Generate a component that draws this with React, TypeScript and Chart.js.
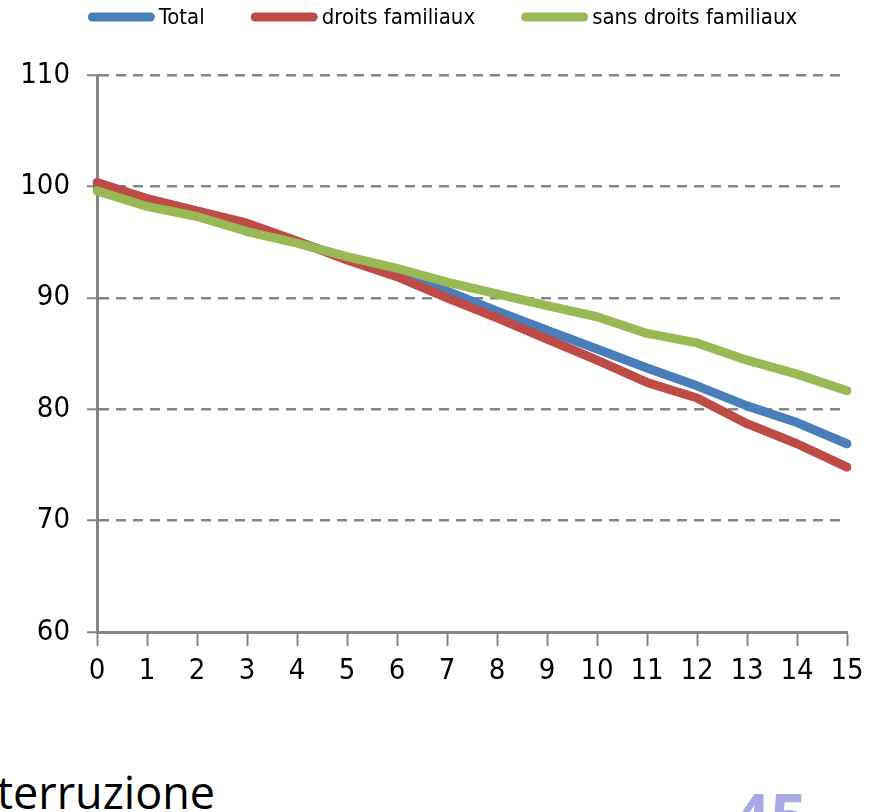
import React, { useEffect, useRef } from "react";
import { Chart, registerables } from "chart.js";

Chart.register(...registerables);

const categories = ["0", "1", "2", "3", "4", "5", "6", "7", "8", "9", "10", "11", "12", "13", "14", "15"];
const totalValues = [100.0, 98.6, 97.6, 96.3, 95.0, 93.6, 92.1, 90.6, 88.8, 87.1, 85.4, 83.7, 82.1, 80.3, 78.8, 76.9];
const droitsValues = [100.35, 98.9, 97.8, 96.7, 95.1, 93.4, 91.9, 90.0, 88.2, 86.3, 84.4, 82.4, 81.0, 78.7, 76.9, 74.8];
const sansValues = [99.6, 98.2, 97.3, 95.95, 94.9, 93.7, 92.65, 91.4, 90.35, 89.3, 88.3, 86.8, 85.95, 84.4, 83.15, 81.65];
const seriesLabels = ["Total", "droits familiaux", "sans droits familiaux"];
const seriesColors = ["#4a7ebb", "#be4b48", "#98b954"];
const yMin = 60;
const yMax = 110;
const yStep = 10;

const FONT = '"Liberation Sans Narrow", "DejaVu Sans Condensed", sans-serif';

const legendPlugin = {
  id: "customLegend",
  afterDraw(chart: any) {
    const ctx = chart.ctx;
    ctx.save();
    ctx.font = `22px ${FONT}`;
    const items = chart.data.datasets.map((d: any) => ({
      label: d.label,
      color: d.borderColor,
      w: ctx.measureText(d.label).width,
    }));
    const sample = 67;
    const gap = 4;
    const spacing = 46;
    const total =
      items.reduce((s: number, it: any) => s + sample + gap + it.w, 0) + spacing * (items.length - 1);
    let x = (chart.width - total) / 2 + 3;
    const y = 17;
    items.forEach((it: any) => {
      ctx.strokeStyle = it.color;
      ctx.lineWidth = 9;
      ctx.lineCap = "round";
      ctx.beginPath();
      ctx.moveTo(x + 4.5, y);
      ctx.lineTo(x + sample - 4.5, y);
      ctx.stroke();
      ctx.fillStyle = "#000";
      ctx.textBaseline = "middle";
      ctx.textAlign = "left";
      ctx.fillText(it.label, x + sample + gap, y + 1);
      x += sample + gap + it.w + spacing;
    });
    ctx.restore();
  },
};

export default function App() {
  const ref = useRef<HTMLCanvasElement | null>(null);
  useEffect(() => {
    if (!ref.current) return;
    const valueSets = [totalValues, droitsValues, sansValues];
    const orders = [2, 1, 0];
    const chart = new Chart(ref.current, {
      type: "line",
      data: {
        labels: categories,
        datasets: valueSets.map((vals, i) => ({
          label: seriesLabels[i],
          data: vals,
          borderColor: seriesColors[i],
          backgroundColor: seriesColors[i],
          borderWidth: 9,
          borderCapStyle: "round",
          borderJoinStyle: "round",
          pointRadius: 0,
          tension: 0,
          order: orders[i],
        })),
      },
      options: {
        animation: false,
        responsive: true,
        maintainAspectRatio: false,
        layout: { padding: { top: 75, right: 32, left: 0, bottom: 0 } },
        plugins: {
          legend: { display: false },
          tooltip: { enabled: false },
        },
        scales: {
          x: {
            type: "category",
            offset: false,
            grid: {
              drawOnChartArea: false,
              drawTicks: true,
              tickLength: 14,
              tickColor: "#868686",
              tickWidth: 2,
            },
            border: { color: "#868686", width: 3 },
            ticks: {
              color: "#000",
              font: { family: FONT, size: 29 },
              padding: 8,
              maxRotation: 0,
              autoSkip: false,
            },
            afterFit: (s: any) => {
              s.height = 68;
            },
          },
          y: {
            min: yMin,
            max: yMax,
            ticks: {
              stepSize: yStep,
              color: "#000",
              font: { family: FONT, size: 29 },
              padding: 17,
            },
            grid: {
              color: "#868686",
              lineWidth: 2.5,
              tickLength: 10,
              tickColor: "#868686",
              tickWidth: 2,
              tickBorderDash: [],
            },
            border: { color: "#868686", width: 3, dash: [10, 7] },
            afterFit: (s: any) => {
              s.width = 97;
            },
          },
        },
      },
      plugins: [legendPlugin],
    } as any);
    return () => chart.destroy();
  }, []);

  return (
    <div
      style={{
        position: "fixed",
        left: 0,
        top: 0,
        width: 879,
        height: 812,
        overflow: "hidden",
        background: "#fff",
      }}
    >
      <div style={{ position: "absolute", left: 0, top: 0, width: 879, height: 700 }}>
        <canvas ref={ref} />
      </div>
      <div
        style={{
          position: "absolute",
          left: -3,
          top: 769,
          fontFamily: '"Open Sans", sans-serif',
          fontSize: 45,
          lineHeight: 1,
          color: "#000",
          whiteSpace: "nowrap",
        }}
      >
        terruzione
      </div>
      <div
        style={{
          position: "absolute",
          left: 733,
          top: 783,
          fontFamily: '"Open Sans", sans-serif',
          fontWeight: 700,
          fontSize: 65,
          lineHeight: 1,
          color: "#a9a9e6",
          whiteSpace: "nowrap",
        }}
      >
        45
      </div>
    </div>
  );
}
